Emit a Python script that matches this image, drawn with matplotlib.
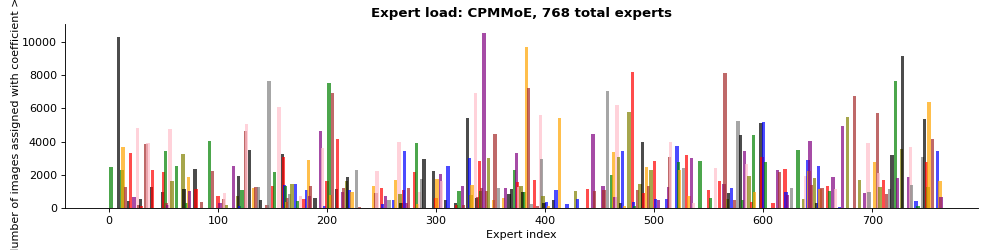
import matplotlib
matplotlib.use("Agg")
import matplotlib.pyplot as plt

# colour codes used below
COLORS = {'g': 'green', 'k': 'black', 'o': 'orange', 'br': 'brown', 'r': 'red',
          'pk': 'pink', 'pu': 'purple', 'ol': 'olive', 'gr': 'gray', 'b': 'blue'}

n_experts = 768

# experts with a non-zero load (index, number of images, colour)
expert_idx = [
    2, 9, 12, 13, 15, 18, 20, 23, 26, 27, 29, 30, 34, 36, 39, 40, 49, 50, 52, 53,
    54, 56, 58, 62, 68, 69, 71, 73, 74, 79, 80, 85, 92, 95, 100, 102, 105, 106, 108, 114,
    118, 119, 120, 122, 125, 126, 129, 133, 135, 137, 139, 145, 147, 150, 152, 156, 159, 160, 161, 162,
    163, 164, 166, 168, 171, 173, 176, 179, 181, 183, 184, 185, 189, 194, 196, 198, 200, 202, 203, 205,
    209, 210, 214, 215, 218, 219, 221, 223, 227, 230, 243, 245, 246, 250, 251, 254, 257, 261, 263, 266,
    267, 268, 270, 271, 273, 275, 280, 282, 283, 285, 287, 289, 298, 300, 301, 304, 305, 309, 311, 318,
    319, 321, 324, 325, 329, 331, 332, 333, 336, 337, 338, 340, 341, 342, 344, 346, 348, 353, 354, 357,
    362, 364, 367, 369, 372, 374, 375, 376, 378, 379, 381, 383, 385, 387, 390, 393, 396, 397, 398, 399,
    401, 403, 408, 410, 413, 420, 428, 430, 439, 444, 445, 453, 454, 457, 461, 463, 464, 466, 467, 469,
    471, 473, 477, 480, 481, 482, 485, 487, 489, 490, 493, 495, 497, 500, 501, 504, 511, 513, 514, 515,
    521, 522, 523, 527, 530, 532, 534, 536, 542, 550, 552, 556, 560, 564, 565, 567, 568, 571, 574, 577,
    579, 581, 583, 585, 587, 589, 591, 592, 598, 599, 600, 602, 609, 613, 615, 620, 621, 622, 626, 632,
    637, 639, 641, 642, 643, 644, 647, 649, 651, 652, 654, 659, 661, 664, 666, 670, 673, 677, 684, 688,
    693, 696, 697, 702, 705, 706, 707, 710, 713, 716, 718, 721, 723, 727, 728, 733, 735, 736, 740, 742,
    746, 748, 750, 751, 752, 755, 760, 762, 763,
]
expert_load = [
    2500, 10300, 2280, 3700, 1250, 440, 3300, 650, 4850, 200, 560, 150, 3840, 3920, 1250, 2300, 970, 2180, 3430, 330,
    200, 4770, 1620, 2550, 3270, 1170, 330, 1880, 1010, 2340, 1130, 350, 4020, 2200, 700, 280, 520, 890, 170, 2550,
    730, 1940, 150, 1090, 4650, 5050, 3480, 1210, 1250, 1250, 510, 200, 7680, 1330, 2160, 6060, 3270, 3070, 1370, 1300,
    350, 590, 830, 1470, 1470, 440, 700, 520, 1070, 2890, 730, 1300, 590, 4670, 3600, 150, 1620, 7520, 760, 6910,
    1170, 4160, 970, 1210, 1620, 1860, 1090, 970, 2300, 60, 1310, 910, 2220, 1190, 240, 700, 490, 470, 1680, 3980,
    850, 300, 1090, 3410, 300, 1190, 2180, 3920, 250, 970, 1760, 2950, 2200, 610, 1760, 2060, 1620, 490, 2550, 320,
    200, 1050, 1300, 200, 5450, 3030, 770, 1370, 6910, 590, 670, 2830, 1010, 1210, 10560, 1050, 3010, 500, 4470, 1210,
    620, 1210, 850, 1170, 2320, 3330, 1580, 1250, 1330, 970, 950, 9700, 7250, 250, 1700, 150, 5580, 2970, 750, 280,
    360, 150, 500, 1110, 5410, 220, 1030, 560, 1150, 4480, 1050, 1330, 1090, 7030, 1980, 3370, 650, 6180, 3050, 320,
    3450, 100, 5760, 8220, 340, 150, 1110, 1430, 3980, 930, 2460, 1330, 2300, 2810, 570, 490, 530, 1270, 3050, 4000,
    3740, 2770, 2300, 2440, 3210, 750, 3010, 320, 2830, 1110, 590, 2420, 1640, 1450, 8120, 550, 890, 1190, 480, 5250,
    4400, 460, 3410, 2630, 1940, 380, 4380, 990, 5130, 3070, 5170, 2770, 280, 2320, 2140, 2340, 990, 790, 1190, 3520,
    550, 1900, 2870, 2240, 4060, 1410, 1800, 320, 2540, 1130, 1190, 1330, 1010, 1880, 1150, 50, 4970, 5470, 6750, 1660,
    890, 3940, 970, 2770, 5740, 2100, 1250, 1700, 830, 1150, 3210, 7680, 1780, 3580, 9170, 1860, 3660, 1390, 420, 150,
    3080, 5370, 2760, 1250, 6360, 4160, 3410, 1620, 650,
]
expert_col = [
    'g', 'k', 'g', 'o', 'br', 'k', 'r', 'pu', 'pk', 'br', 'k', 'r', 'br', 'pk', 'k', 'r', 'k', 'r', 'g', 'br',
    'pu', 'pk', 'ol', 'g', 'ol', 'k', 'g', 'o', 'pu', 'k', 'r', 'br', 'g', 'br', 'r', 'pu', 'br', 'pk', 'ol', 'pu',
    'ol', 'k', 'b', 'g', 'br', 'pk', 'k', 'o', 'br', 'gr', 'k', 'br', 'gr', 'r', 'g', 'pk', 'k', 'r', 'b', 'g',
    'o', 'br', 'gr', 'ol', 'b', 'g', 'pk', 'r', 'b', 'o', 'pu', 'br', 'k', 'pu', 'pk', 'b', 'r', 'g', 'o', 'br',
    'k', 'r', 'pu', 'br', 'ol', 'k', 'b', 'o', 'gr', 'br', 'o', 'br', 'pk', 'r', 'b', 'pu', 'gr', 'b', 'o', 'pk',
    'ol', 'k', 'r', 'b', 'pu', 'br', 'r', 'g', 'o', 'pk', 'gr', 'k', 'k', 'r', 'o', 'pu', 'pk', 'k', 'b', 'k',
    'r', 'g', 'pu', 'br', 'k', 'b', 'ol', 'o', 'pk', 'k', 'br', 'r', 'g', 'br', 'pu', 'br', 'ol', 'o', 'br', 'gr',
    'o', 'pu', 'k', 'k', 'g', 'pu', 'r', 'pk', 'ol', 'k', 'g', 'o', 'br', 'gr', 'r', 'br', 'pk', 'gr', 'ol', 'k',
    'b', 'o', 'k', 'b', 'o', 'b', 'ol', 'b', 'r', 'pu', 'br', 'pu', 'br', 'gr', 'g', 'o', 'pu', 'pk', 'ol', 'k',
    'b', 'o', 'ol', 'r', 'b', 'g', 'br', 'ol', 'k', 'r', 'o', 'br', 'ol', 'r', 'b', 'pu', 'b', 'pu', 'br', 'pk',
    'b', 'g', 'o', 'gr', 'r', 'o', 'pu', 'pk', 'g', 'r', 'g', 'pk', 'r', 'pu', 'br', 'ol', 'k', 'b', 'br', 'gr',
    'k', 'g', 'pu', 'pk', 'ol', 'r', 'g', 'o', 'k', 'r', 'b', 'g', 'r', 'pu', 'br', 'r', 'b', 'pu', 'gr', 'g',
    'ol', 'pk', 'b', 'o', 'pu', 'br', 'ol', 'k', 'b', 'o', 'br', 'r', 'g', 'pu', 'pk', 'b', 'pu', 'ol', 'br', 'ol',
    'pu', 'pk', 'gr', 'o', 'br', 'pk', 'ol', 'r', 'br', 'gr', 'k', 'g', 'pu', 'ol', 'k', 'pu', 'pk', 'gr', 'b', 'g',
    'gr', 'k', 'r', 'ol', 'o', 'br', 'b', 'o', 'pu',
]

# the original was drawn at 80 dpi with default font sizes
fig = plt.figure(figsize=(12.45, 3.125), dpi=80)
ax = fig.add_axes([0.065, 0.168, 0.917, 0.736])

ax.bar(expert_idx, expert_load, width=3,
       color=[COLORS[c] for c in expert_col], alpha=0.7, linewidth=0)
ax.set_xlim(-40.4, 797)

ax.spines['top'].set_visible(False)
ax.spines['right'].set_visible(False)
ax.set_title('Expert load: CPMMoE, 768 total experts', fontweight='bold')
ax.set_xlabel('Expert index')
ax.set_ylabel('Number of images assigned with coefficient > 0.1', labelpad=1)

fig.savefig('out.png', dpi=80)
